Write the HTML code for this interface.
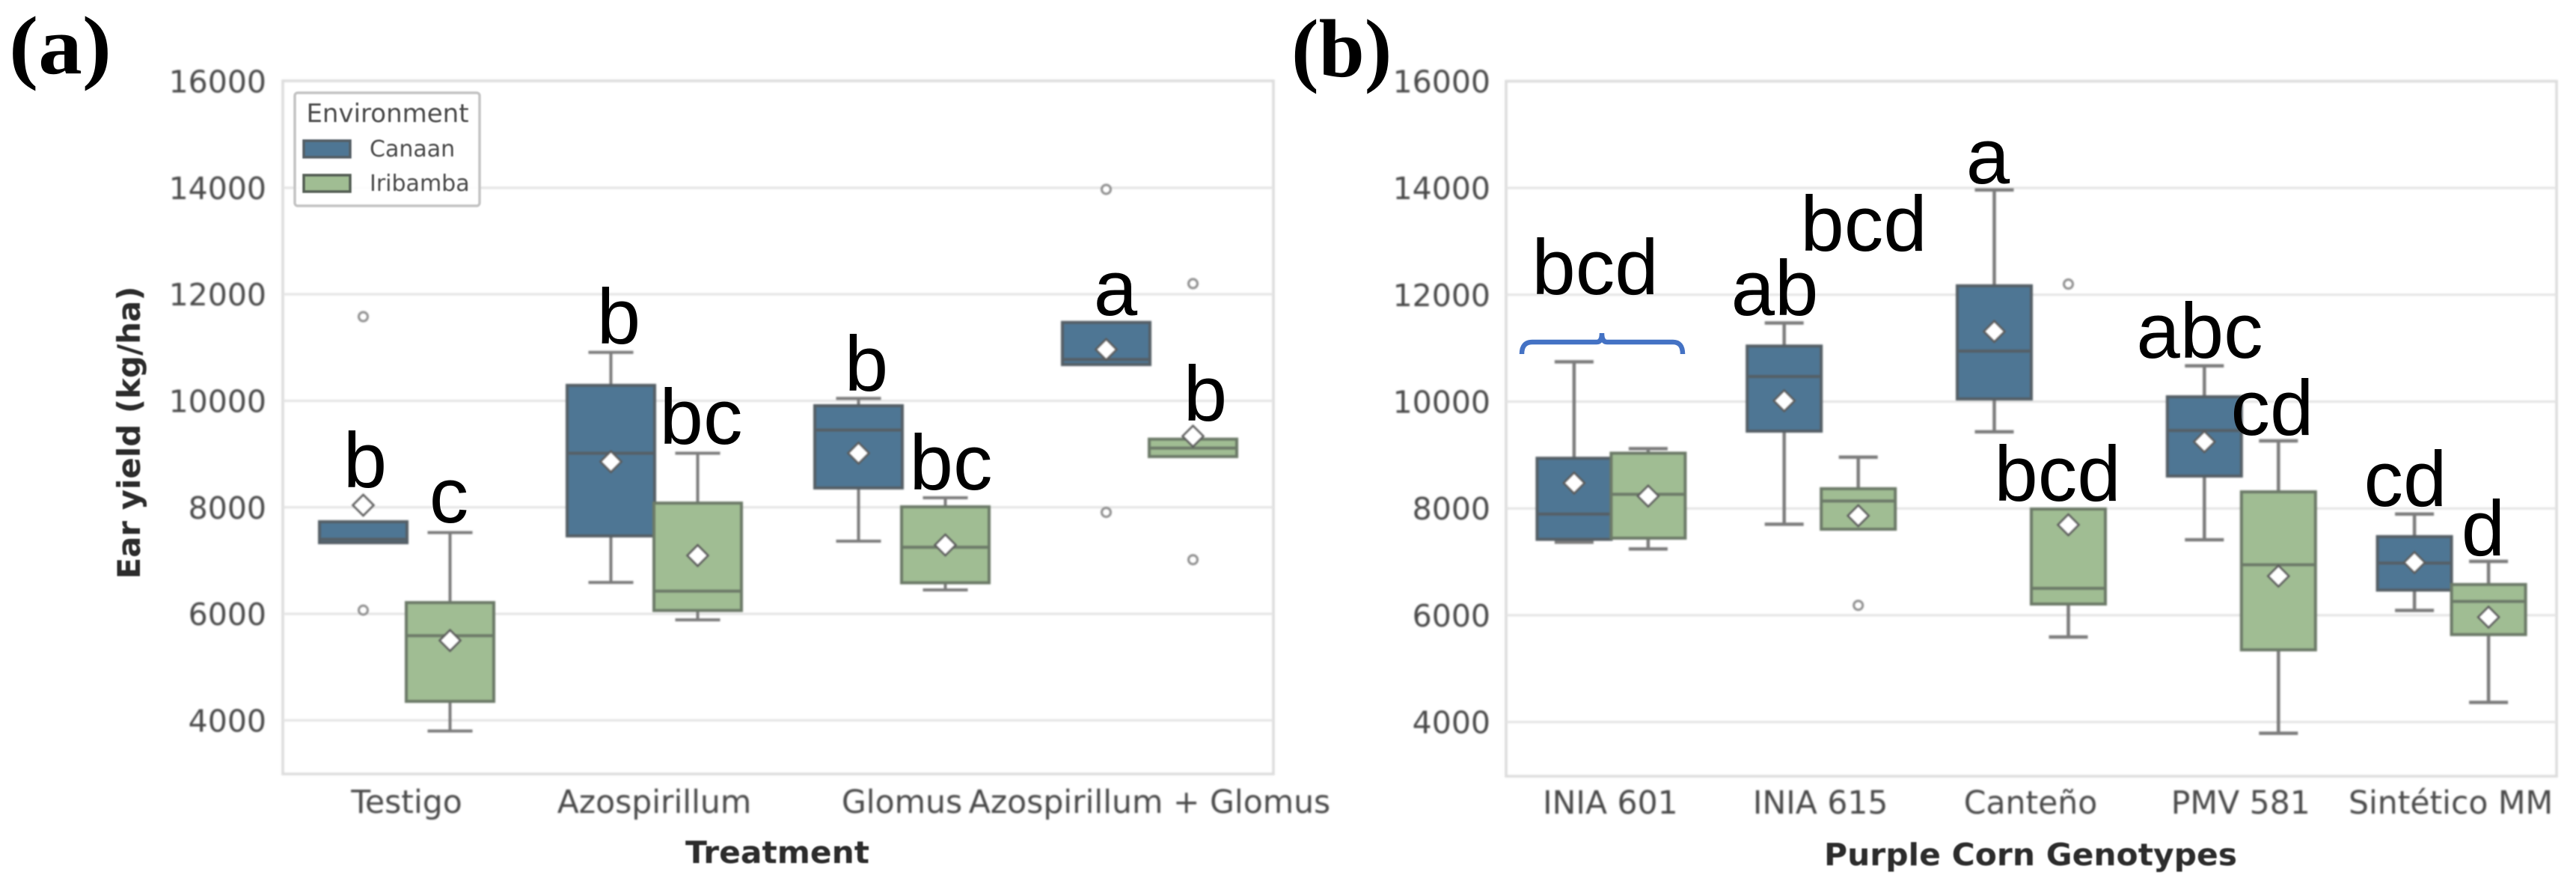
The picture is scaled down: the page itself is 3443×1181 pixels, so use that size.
<!DOCTYPE html>
<html>
<head>
<meta charset="utf-8">
<title>Ear yield box plots</title>
<style>
html,body{margin:0;padding:0;background:#fff;width:3443px;height:1181px;overflow:hidden}
svg{display:block;position:absolute;left:0;top:0}
.tick{font-family:"DejaVu Sans","Liberation Sans",sans-serif;font-size:41px;fill:#4a4a4a}
.xtick{font-size:42.5px}
.axt{font-family:"DejaVu Sans","Liberation Sans",sans-serif;font-weight:bold;fill:#2c2c2c}
.let{font-family:"Liberation Sans",sans-serif;font-size:105px;fill:#000;text-anchor:middle}
.pan{font-family:"Liberation Serif",serif;font-weight:bold;font-size:110px;fill:#000}
.leg{font-family:"DejaVu Sans","Liberation Sans",sans-serif;fill:#4a4a4a}
</style>
</head>
<body>
<svg id="chart" xmlns="http://www.w3.org/2000/svg" width="3443" height="1181" viewBox="0 0 3443 1181">
  <rect x="0" y="0" width="3443" height="1181" fill="#fff"/>
  <g id="plots" style="filter:blur(1.1px)"></g>

  <g style="filter:blur(0.9px)">
    <rect x="394" y="124" width="247" height="151" rx="4" fill="#fff" fill-opacity="0.9" stroke="#c4c4c4" stroke-width="3.5"/>
    <text class="leg" x="518" y="163" font-size="34" text-anchor="middle">Environment</text>
    <rect x="406" y="188" width="62" height="22" fill="#4e7694" stroke="#555f66" stroke-width="3.5"/>
    <text class="leg" x="494" y="209" font-size="30">Canaan</text>
    <rect x="406" y="234" width="62" height="22" fill="#a0bd93" stroke="#555f55" stroke-width="3.5"/>
    <text class="leg" x="494" y="255" font-size="30">Iribamba</text>
  </g>

  <g style="filter:blur(0.8px)">
    <text class="axt" font-size="42" text-anchor="middle" textLength="391" lengthAdjust="spacingAndGlyphs" transform="translate(187,578) rotate(-90)">Ear yield (kg/ha)</text>
    <text class="axt" font-size="41" x="1039" y="1153" text-anchor="middle" textLength="246" lengthAdjust="spacingAndGlyphs">Treatment</text>
    <text class="axt" font-size="41" x="2714" y="1156" text-anchor="middle" textLength="552" lengthAdjust="spacingAndGlyphs">Purple Corn Genotypes</text>
  </g>

  <g>
    <text class="let" x="488" y="651">b</text>
    <text class="let" x="600" y="698">c</text>
    <text class="let" x="827" y="459">b</text>
    <text class="let" x="937" y="593">bc</text>
    <text class="let" x="1158" y="522">b</text>
    <text class="let" x="1271" y="654">bc</text>
    <text class="let" x="1491" y="421">a</text>
    <text class="let" x="1611" y="562">b</text>
  </g>
  <g>
    <text class="let" x="2132" y="393">bcd</text>
    <text class="let" x="2372" y="421">ab</text>
    <text class="let" x="2491" y="335">bcd</text>
    <text class="let" x="2657" y="245">a</text>
    <text class="let" x="2750" y="669">bcd</text>
    <text class="let" x="2940" y="478">abc</text>
    <text class="let" x="3037" y="581">cd</text>
    <text class="let" x="3215" y="676">cd</text>
    <text class="let" x="3319" y="742">d</text>
  </g>
  <path d="M2034 473 Q2034 457 2048 457 L2134 457 Q2141 457 2141 445 Q2141 457 2148 457 L2236 457 Q2249 457 2249 473" fill="none" stroke="#4472c4" stroke-width="6.5"/>

  <text class="pan" x="12" y="98" textLength="137" lengthAdjust="spacingAndGlyphs">(a)</text>
  <text class="pan" x="1726" y="102">(b)</text>
</svg>

<script>
/* Shared axis ticks */
const yTicks = [4000, 6000, 8000, 10000, 12000, 14000, 16000];

/* Panel (a): Treatment */
const categoriesA = ['Testigo', 'Azospirillum', 'Glomus', 'Azospirillum + Glomus'];
const canaanLowA = [null, 6590, 7365, null];
const canaanQ1A = [7336, 7463, 8363, 10680];
const canaanMedianA = [7400, 9015, 9452, 10775];
const canaanQ3A = [7730, 10290, 9908, 11472];
const canaanHighA = [null, 10910, 10045, null];
const canaanMeanA = [8040, 8857, 9017, 10963];
const canaanOutliersA = [[11580, 6070], [], [], [13970, 7906]];
const iribambaLowA = [3800, 5888, 6450, null];
const iribambaQ1A = [4357, 6063, 6583, 8953];
const iribambaMedianA = [5590, 6427, 7250, 9113];
const iribambaQ3A = [6212, 8080, 8010, 9280];
const iribambaHighA = [7526, 9015, 8180, null];
const iribambaMeanA = [5500, 7095, 7292, 9335];
const iribambaOutliersA = [[], [], [], [12200, 7017]];

/* Panel (b): Purple Corn Genotypes */
const categoriesB = ['INIA 601', 'INIA 615', 'Canteño', 'PMV 581', 'Sintético MM'];
const canaanLowB = [7366, 7704, 9435, 7412, 6090];
const canaanQ1B = [7420, 9446, 10049, 8605, 6470];
const canaanMedianB = [7895, 10470, 10946, 9458, 6976];
const canaanQ3B = [8939, 11040, 12168, 10090, 7472];
const canaanHighB = [10744, 11472, 13962, 10670, 7895];
const canaanMeanB = [8475, 10016, 11313, 9248, 6987];
const canaanOutliersB = [[], [], [], [], []];
const iribambaLowB = [7240, null, 5593, 3790, 4368];
const iribambaQ1B = [7442, 7610, 6209, 5351, 5637];
const iribambaMedianB = [8263, 8137, 6503, 6945, 6258];
const iribambaQ3B = [9034, 8369, 7989, 8310, 6575];
const iribambaHighB = [9118, 8960, null, 9265, 7008];
const iribambaMeanB = [8231, 7863, 7693, 6733, 5964];
const iribambaOutliersB = [[], [6185], [12200], [], []];

const NS = 'http://www.w3.org/2000/svg';
const plots = document.getElementById('plots');

function make(parent, tag, attrs, text) {
  const node = document.createElementNS(NS, tag);
  for (const k in attrs) node.setAttribute(k, attrs[k]);
  if (text !== undefined) node.textContent = text;
  parent.appendChild(node);
  return node;
}

function drawSeries(g, cats, xBand, yScale, sign, geom, color, edge, s, seriesName) {
  cats.forEach(function (cat, i) {
    const cx = xBand(i) + sign * geom.offset;
    const key = cat.toLowerCase().replace(/[^a-z0-9]+/g, '-');
    const box = make(g, 'g', {});
    
    
    const wStyle = { stroke: '#7c7c7c', 'stroke-width': geom.whisker, fill: 'none' };
    if (s.high[i] !== null) {
      make(box, 'line', Object.assign({ x1: cx, x2: cx, y1: yScale(s.high[i]), y2: yScale(s.q3[i]) }, wStyle));
      make(box, 'line', Object.assign({ x1: cx - geom.cap, x2: cx + geom.cap, y1: yScale(s.high[i]), y2: yScale(s.high[i]) }, wStyle));
    }
    if (s.low[i] !== null) {
      make(box, 'line', Object.assign({ x1: cx, x2: cx, y1: yScale(s.q1[i]), y2: yScale(s.low[i]) }, wStyle));
      make(box, 'line', Object.assign({ x1: cx - geom.cap, x2: cx + geom.cap, y1: yScale(s.low[i]), y2: yScale(s.low[i]) }, wStyle));
    }
    make(box, 'rect', {
      x: cx - geom.half, y: yScale(s.q3[i]), width: geom.half * 2,
      height: yScale(s.q1[i]) - yScale(s.q3[i]),
      fill: color, stroke: edge, 'stroke-width': 4
    });
    make(box, 'line', { x1: cx - geom.half, x2: cx + geom.half, y1: yScale(s.median[i]), y2: yScale(s.median[i]), stroke: edge, 'stroke-width': 4 });
    const my = yScale(s.mean[i]);
    make(box, 'path', {
      d: 'M' + cx + ' ' + (my - 14) + 'L' + (cx + 14) + ' ' + my + 'L' + cx + ' ' + (my + 14) + 'L' + (cx - 14) + ' ' + my + 'Z',
      fill: '#fff', stroke: '#5a5a5a', 'stroke-width': 2.5
    });
    s.outliers[i].forEach(function (v) {
      make(box, 'circle', { cx: cx, cy: yScale(v), r: 6, fill: '#fff', stroke: '#8f8f8f', 'stroke-width': 3 });
    });
  });
}

function drawPanel(panelName, cfg) {
  const yScale = function (v) { return cfg.y16 + (16000 - v) * cfg.slope; };
  const band = (cfg.right - cfg.left) / cfg.cats.length;
  const xBand = function (i) { return cfg.left + band * (i + 0.5); };

  const g = make(plots, 'g', {});
  
  

  make(g, 'rect', { x: cfg.left, y: cfg.top, width: cfg.right - cfg.left, height: cfg.bottom - cfg.top, fill: '#fff', stroke: '#dcdcdc', 'stroke-width': 3.5 });

  yTicks.forEach(function (t) {
    const y = yScale(t);
    if (t < 16000) {
      const line = make(g, 'line', { x1: cfg.left, x2: cfg.right, y1: y, y2: y, stroke: '#e4e4e4', 'stroke-width': 3 });
      
      
    }
    const label = make(g, 'text', { class: 'tick', x: cfg.tickRight, y: y + 15, 'text-anchor': 'end' }, String(t));
    
    
  });

  cfg.cats.forEach(function (c, i) {
    const label = make(g, 'text', { class: 'tick xtick', x: xBand(i) + cfg.labelShift, y: cfg.labelY, 'text-anchor': 'middle' }, c);
    
    
  });

  drawSeries(g, cfg.cats, xBand, yScale, -1, cfg.geom, '#4e7694', '#555f66', cfg.canaan, 'canaan');
  drawSeries(g, cfg.cats, xBand, yScale, 1, cfg.geom, '#a0bd93', '#6c7a68', cfg.iribamba, 'iribamba');
}

drawPanel('treatment', {
  cats: categoriesA, left: 378, right: 1702, top: 108, bottom: 1034,
  y16: 108.5, slope: 0.07116, tickRight: 356, labelY: 1086, labelShift: 0,
  geom: { offset: 58, half: 58.5, cap: 30, whisker: 4 },
  canaan: { low: canaanLowA, q1: canaanQ1A, median: canaanMedianA, q3: canaanQ3A, high: canaanHighA, mean: canaanMeanA, outliers: canaanOutliersA },
  iribamba: { low: iribambaLowA, q1: iribambaQ1A, median: iribambaMedianA, q3: iribambaQ3A, high: iribambaHighA, mean: iribambaMeanA, outliers: iribambaOutliersA }
});

drawPanel('genotypes', {
  cats: categoriesB, left: 2013, right: 3417, top: 108.5, bottom: 1037,
  y16: 108.4, slope: 0.07135, tickRight: 1992, labelY: 1087, labelShift: -1,
  geom: { offset: 49.5, half: 49.5, cap: 26, whisker: 4.5 },
  canaan: { low: canaanLowB, q1: canaanQ1B, median: canaanMedianB, q3: canaanQ3B, high: canaanHighB, mean: canaanMeanB, outliers: canaanOutliersB },
  iribamba: { low: iribambaLowB, q1: iribambaQ1B, median: iribambaMedianB, q3: iribambaQ3B, high: iribambaHighB, mean: iribambaMeanB, outliers: iribambaOutliersB }
});
</script>
</body>
</html>
